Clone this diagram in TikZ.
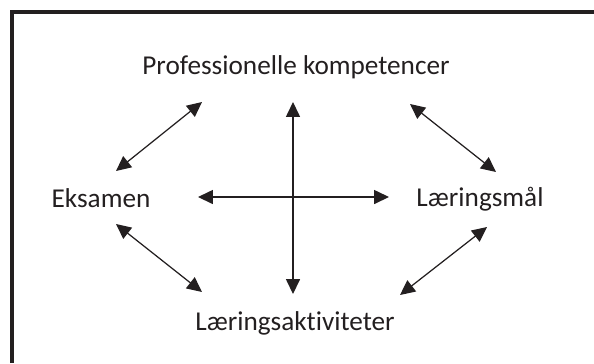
\documentclass[tikz,border=0pt]{standalone}
\usepackage{fontspec}
\setmainfont[Ligatures=NoCommon]{Carlito}
\usepackage{tikz}
\usetikzlibrary{arrows.meta,positioning}
\definecolor{pilGraa}{RGB}{35,31,32}

\begin{document}
\begin{tikzpicture}[x=0.02cm,y=-0.02cm,
          lbl/.style={font=\fontsize{15.5}{18}\selectfont,anchor=base,
                      inner sep=0pt,text=pilGraa},
          pil/.style={{Triangle[length=8.5pt,width=8pt]}-{Triangle[length=8.5pt,width=8pt]},
                      draw=pilGraa,fill=pilGraa,line width=0.7pt}]
          \useasboundingbox (0,0) rectangle (594,363);
          % ramme (kun top og venstre side ses)
          \draw[pilGraa,line width=2pt] (12,363) -- (12,12) -- (594,12);
          \node[lbl] (pk)  at (296,74)  {Professionelle kompetencer};
          \node[lbl] (eks) at (101,207) {Eksamen};
          \node[lbl] (lm)  at (480,206) {Læringsmål};
          \node[lbl] (la)  at (295,330) {Læringsaktiviteter};
          % pilenes ender
          \coordinate (pk-v) at (202,102);
          \coordinate (pk-h) at (410,104);
          \coordinate (pk-n) at (293,102);
          \coordinate (eks-o) at (116,171);
          \coordinate (eks-n) at (116,224);
          \coordinate (eks-h) at (198,197);
          \coordinate (lm-o) at (496,172);
          \coordinate (lm-n) at (487,227);
          \coordinate (lm-v) at (389,197);
          \coordinate (la-v) at (202,292);
          \coordinate (la-o) at (293,294);
          \coordinate (la-h) at (400,295);
          \draw[pil] (pk-v) -- (eks-o);
          \draw[pil] (pk-h) -- (lm-o);
          \draw[pil] (eks-n) -- (la-v);
          \draw[pil] (lm-n) -- (la-h);
          \draw[pil] (pk-n) -- (la-o);
          \draw[pil] (eks-h) -- (lm-v);
        \end{tikzpicture}
\end{document}
